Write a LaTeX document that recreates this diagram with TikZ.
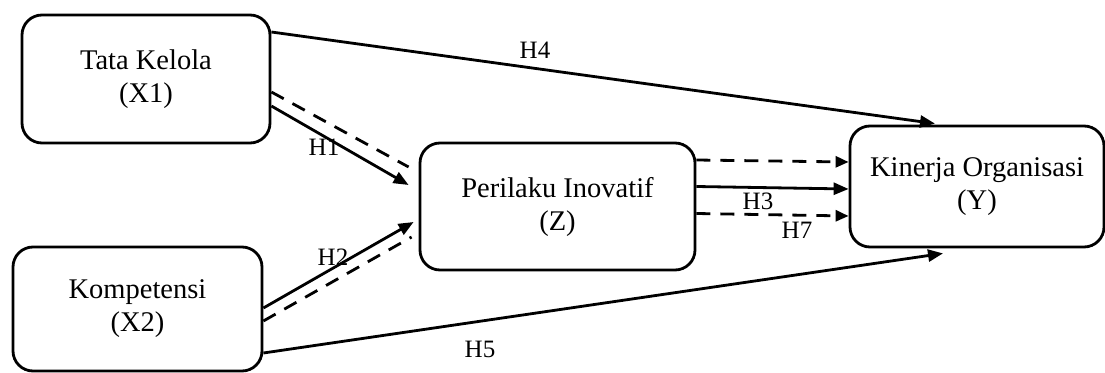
\documentclass[tikz,border=0pt]{standalone}
\usepackage{fontspec}
\setmainfont{Liberation Serif}
\usetikzlibrary{arrows.meta,calc}
\begin{document}
\begin{tikzpicture}[x=1pt,y=-1pt,
  var/.style={draw,line width=2.8pt,rounded corners=20pt,align=center,
    font=\fontsize{28.5}{33}\selectfont,inner sep=0pt},
  solidarr/.style={line width=2.8pt,-{Triangle[length=15pt,width=12pt]}},
  dasharr/.style={line width=2.8pt,dash pattern=on 14pt off 10pt,-{Triangle[length=13pt,width=11pt]}},
  dashline/.style={line width=2.8pt,dash pattern=on 14pt off 10pt},
  hlab/.style={font=\fontsize{25}{28}\selectfont,inner sep=0pt}]
\useasboundingbox (0,0) rectangle (1105,372);
\node[var,minimum width=248pt,minimum height=128pt] (x1) at (146,79) {Tata Kelola\\(X1)};
\node[var,minimum width=249pt,minimum height=124pt] (x2) at (137.5,309) {Kompetensi\\(X2)};
\node[var,minimum width=275pt,minimum height=127pt] (z) at (557.5,206.5) {Perilaku Inovatif\\(Z)};
\node[var,minimum width=254pt,minimum height=121pt] (y) at (977,186.5) {Kinerja Organisasi\\(Y)};
% H4 and H5
\draw[solidarr] ($(x1.east)+(0,-47)$) -- ($(y.north)+(-42,-1)$);
\draw[solidarr] ($(x2.east)+(0,44)$) -- ($(y.south)+(-34,5)$);
% H1
\draw[dashline] ($(x1.east)+(0,13)$) -- ($(z.west)+(-10,-39.5)$);
\draw[solidarr] ($(x1.east)+(0,27)$) -- ($(z.west)+(-10,-21.5)$);
% H2
\draw[solidarr] ($(x2.east)+(0,-1)$) -- ($(z.west)+(-5,15.5)$);
\draw[dashline] ($(x2.east)+(0,12)$) -- ($(z.west)+(-7,30.5)$);
% Z -> Y
\draw[dasharr] ($(z.east)+(0,-46.5)$) -- ($(y.west)+(0,-24.5)$);
\draw[solidarr] ($(z.east)+(0,-20)$) -- ($(y.west)+(0,2.5)$);
\draw[dasharr] ($(z.east)+(0,7)$) -- ($(y.west)+(0,29.5)$);
% labels
\node[hlab] (h1) at (324,147) {H1};
\node[hlab] (h2) at (333,257) {H2};
\node[hlab] (h3) at (758,201) {H3};
\node[hlab] (h7) at (797,230) {H7};
\node[hlab] (h4) at (535,50) {H4};
\node[hlab] (h5) at (480,349) {H5};
\end{tikzpicture}
\end{document}
